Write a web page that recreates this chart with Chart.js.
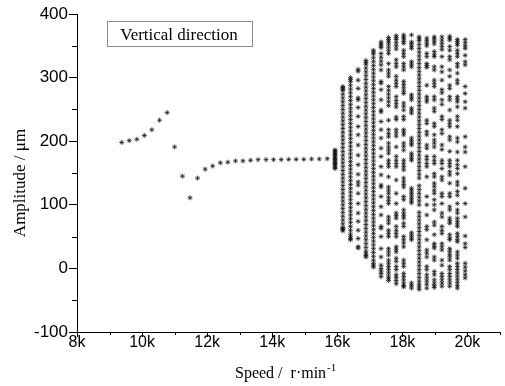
<!DOCTYPE html>
<html lang="en">
<head>
<meta charset="UTF-8">
<title>Vertical direction - amplitude vs speed</title>
<script src="https://cdn.jsdelivr.net/npm/chart.js@4.4.1/dist/chart.umd.min.js"></script>
<style>
    html, body { margin: 0; padding: 0; background: #fff; }
    #wrap { width: 505px; height: 386px; position: relative; }
</style>
</head>
<body>
<div id="wrap"><canvas id="chart"></canvas></div>
<script>
// speed (r/min) and amplitude (um) before the bifurcation
const lowSpeed = [9375, 9605, 9840, 10070, 10300, 10535, 10770, 11000, 11240, 11475, 11705, 11940, 12170, 12405,
    12635, 12870, 13100, 13335, 13565, 13810, 14040, 14275, 14505, 14735, 14970, 15210, 15445, 15690];
const lowAmp = [198, 201, 203, 209, 218, 233, 245, 191, 145, 111, 142, 156, 161, 166,
    167, 169, 169, 170, 171, 171, 171, 171, 171.5, 171.5, 171.5, 172, 172, 172.5];

// the short black bar just before 16k
const barSpeed = 15930;
const barAmp = [157, 159, 161, 163, 165, 167, 169, 171, 173, 175, 177, 179, 181, 183, 185, 186];

// columns after 16k
const columnSpeeds = [16170, 16405, 16640, 16880, 17110, 17345, 17575, 17810, 18040, 18280, 18515, 18750, 18980, 19215, 19455, 19690, 19930];
const columnAmps = [
    [286, 284, 282, 280, 274, 268, 262, 256, 250, 244, 238, 232, 226, 220, 214, 208, 202, 196, 190, 184, 178, 172, 166, 160,
        154, 148, 142, 136, 130, 124, 118, 112, 106, 100, 94, 88, 82, 76, 70, 64, 63, 61, 59],
    [300, 297, 294, 288, 282, 276, 270, 264, 258, 252, 246, 240, 234, 228, 222, 216, 210, 204, 198, 192, 186, 180, 174, 168,
        162, 156, 150, 144, 138, 132, 126, 120, 114, 108, 102, 96, 90, 84, 78, 72, 66, 60, 54, 50, 47, 45],
    [313, 310, 296, 283, 268, 265, 253, 239, 223, 210, 194, 178, 163, 148, 136, 131, 118, 102, 87, 74, 60, 47, 34, 32],
    [327, 324, 321, 315, 309, 303, 297, 291, 285, 279, 273, 267, 261, 255, 249, 243, 237, 231, 225, 219, 213, 207, 201, 195,
        189, 183, 177, 171, 165, 159, 153, 147, 141, 135, 129, 123, 117, 111, 105, 99, 93, 87, 81, 75, 69, 63, 57, 51, 45,
        39, 33, 27, 23, 20, 18],
    [343, 340, 337, 331, 325, 319, 313, 307, 301, 295, 289, 283, 277, 271, 265, 259, 253, 247, 241, 235, 229, 223, 217, 211,
        205, 199, 193, 187, 181, 175, 169, 163, 157, 151, 145, 139, 133, 127, 121, 115, 109, 103, 97, 91, 85, 79, 73, 67,
        61, 55, 49, 43, 37, 31, 25, 19, 13, 8, 5, 2],
    [356, 353, 350, 347, 338, 332, 326, 320, 312, 294, 291, 281, 265, 249, 246, 231, 218, 205, 189, 176, 160, 147, 131, 128,
        113, 97, 84, 66, 63, 50, 31, 18, 5, 0, -4, -8, -13],
    [363, 360, 357, 353, 348, 343, 338, 322, 312, 307, 302, 286, 280, 274, 268, 262, 256, 233, 218, 212, 207, 197, 191, 186,
        181, 165, 170, 160, 144, 128, 123, 118, 112, 107, 102, 81, 76, 71, 60, 55, 50, 31, 26, 21, 13, 8, 3, -2, -7, -12, -16, -19],
    [366, 363, 360, 355, 350, 345, 328, 322, 317, 302, 296, 291, 286, 270, 264, 259, 254, 238, 234, 218, 213, 208, 191, 176,
        170, 165, 160, 139, 118, 102, 87, 83, 79, 66, 60, 55, 50, 34, 30, 26, 16, 11, 3, -2, -10, -14, -19, -24],
    [367, 364, 361, 357, 354, 343, 338, 333, 322, 317, 312, 294, 289, 284, 279, 275, 260, 255, 249, 239, 234, 218, 214, 210,
        197, 192, 186, 170, 165, 160, 155, 142, 137, 132, 128, 113, 108, 92, 87, 83, 79, 71, 66, 50, 45, 40, 34, 13, 8, 3,
        -8, -13, -18, -23, -27, -29],
    [367, 356, 353, 349, 346, 325, 321, 317, 273, 269, 265, 252, 248, 244, 205, 201, 197, 194, 181, 177, 173, 170,
        126, 122, 118, 114, 110, 106, 103, 56, 52, 48, 45, -23, -27, -31],
    [364, 361, 358, 352, 346, 340, 334, 328, 322, 316, 310, 304, 298, 292, 286, 280, 274, 268, 262, 256, 250, 244, 238, 232,
        226, 220, 214, 208, 202, 196, 190, 184, 178, 172, 166, 160, 154, 148, 142, 130, 124, 118, 112, 106, 100, 88, 82,
        76, 70, 64, 58, 52, 46, 40, 34, 28, 22, 16, 10, 4, -2, -8, -14, -20, -25, -29, -33],
    [362, 358, 354, 350, 338, 333, 322, 319, 316, 288, 270, 266, 262, 233, 228, 215, 210, 194, 189, 176, 171, 165, 160,
        144, 113, 100, 84, 66, 61, 45, 29, 24, 18, 3, -2, -10, -15, -20, -25, -31],
    [364, 361, 357, 353, 341, 336, 333, 317, 312, 296, 291, 286, 270, 265, 252, 247, 228, 223, 210, 202, 197, 191, 176,
        170, 165, 149, 144, 134, 129, 123, 118, 108, 100, 92, 73, 68, 53, 39, 35, 32, 18, 13, -5, -10, -18, -23, -27, -30],
    [364, 359, 354, 349, 344, 333, 317, 309, 296, 281, 276, 265, 258, 239, 234, 218, 212, 194, 187, 170, 165, 157, 144,
        139, 118, 113, 102, 87, 81, 66, 60, 55, 39, 34, 29, 13, 5, -8, -13, -18, -23, -28],
    [365, 362, 359, 349, 343, 333, 328, 312, 302, 288, 283, 270, 265, 249, 233, 228, 223, 207, 202, 184, 165, 160, 170,
        152, 147, 134, 118, 113, 97, 92, 79, 75, 71, 53, 48, 45, 31, 27, 22, 18, 13, 3, -2, -8, -13, -18, -23, -28],
    [360, 357, 354, 351, 343, 338, 333, 322, 317, 307, 296, 291, 270, 266, 262, 254, 239, 233, 223, 205, 199, 183, 163,
        170, 157, 149, 136, 131, 121, 115, 102, 92, 87, 79, 74, 70, 66, 55, 50, 45, 42, 26, 21, 16, 8, 3, -2, -7, -12,
        -17, -22, -27, -31],
    [360, 355, 350, 346, 335, 325, 320, 286, 275, 262, 252, 207, 191, 183, 160, 126, 102, 81, 51, 39, 33, 8, 2, -4, -10, -15]
];

const xTickValues = [8000, 10000, 12000, 14000, 16000, 18000, 20000];

const points = [];
lowSpeed.forEach((s, i) => points.push({ x: s, y: lowAmp[i] }));
barAmp.forEach(a => points.push({ x: barSpeed, y: a }));
columnSpeeds.forEach((s, i) => {
    columnAmps[i].forEach(a => points.push({ x: s, y: a }));
});

const sansFont = "'Liberation Sans', Arial, sans-serif";
const serifFont = "'Liberation Serif', 'Times New Roman', serif";

// minor ticks, axis titles and the boxed label
const extras = {
    id: 'extras',
    afterDraw(chart) {
        const ctx = chart.ctx;
        const xs = chart.scales.x, ys = chart.scales.y;
        const area = chart.chartArea;
        ctx.save();
        ctx.strokeStyle = '#000';
        ctx.lineWidth = 1;
        ctx.beginPath();
        for (let v = 9000; v <= 21000; v += 2000) {
            const px = Math.round(xs.getPixelForValue(v)) + 0.5;
            ctx.moveTo(px, area.bottom);
            ctx.lineTo(px, area.bottom + 3);
        }
        for (let v = -50; v <= 350; v += 100) {
            const py = Math.round(ys.getPixelForValue(v)) + 0.5;
            ctx.moveTo(area.left, py);
            ctx.lineTo(area.left - 5, py);
        }
        ctx.stroke();

        ctx.fillStyle = '#000';
        // y title
        ctx.save();
        ctx.translate(25, 183);
        ctx.rotate(-Math.PI / 2);
        ctx.font = '17px ' + serifFont;
        ctx.textAlign = 'center';
        ctx.textBaseline = 'alphabetic';
        ctx.fillText('Amplitude / \u03bcm', 0, 0);
        ctx.restore();

        // x title with superscript
        ctx.font = '16px ' + serifFont;
        ctx.textAlign = 'left';
        ctx.textBaseline = 'alphabetic';
        const main = 'Speed /  r\u00b7min';
        ctx.fillText(main, 235, 378);
        const w = ctx.measureText(main).width;
        ctx.font = '11px ' + serifFont;
        ctx.fillText('-1', 235 + w + 1, 371);

        // boxed label
        ctx.strokeStyle = '#8a8a8a';
        ctx.strokeRect(107.5, 21.5, 145, 25);
        ctx.font = '17px ' + serifFont;
        ctx.fillStyle = '#000';
        ctx.textAlign = 'center';
        ctx.fillText('Vertical direction', 179, 40);
        ctx.restore();
    }
};

new Chart(document.getElementById('chart'), {
    type: 'scatter',
    data: {
        datasets: [{
            data: points,
            pointStyle: 'star',
            radius: 2.5,
            borderWidth: 1,
            borderColor: 'rgba(20,20,20,0.72)',
            backgroundColor: 'rgba(20,20,20,0.72)'
        }]
    },
    options: {
        responsive: true,
        maintainAspectRatio: false,
        animation: false,
        events: [],
        layout: { padding: { top: 14, right: 0, left: 0, bottom: 0 } },
        plugins: { legend: { display: false }, tooltip: { enabled: false } },
        scales: {
            x: {
                type: 'linear',
                min: 8000,
                max: 21000,
                afterBuildTicks: s => { s.ticks = xTickValues.map(v => ({ value: v })); },
                afterFit: s => { s.height = 54; },
                ticks: {
                    callback: v => (v / 1000) + 'k',
                    color: '#000',
                    font: { family: sansFont, size: 16 },
                    padding: -4,
                    maxRotation: 0
                },
                grid: { drawOnChartArea: false, drawTicks: true, tickLength: 5, tickColor: '#000' },
                border: { color: '#000', width: 1 }
            },
            y: {
                min: -100,
                max: 400,
                afterFit: s => { s.width = 77; },
                ticks: {
                    stepSize: 100,
                    color: '#000',
                    font: { family: sansFont, size: 17 },
                    padding: 1
                },
                grid: { drawOnChartArea: false, drawTicks: true, tickLength: 8, tickColor: '#000' },
                border: { color: '#000', width: 1 }
            }
        }
    },
    plugins: [extras]
});
</script>
</body>
</html>
